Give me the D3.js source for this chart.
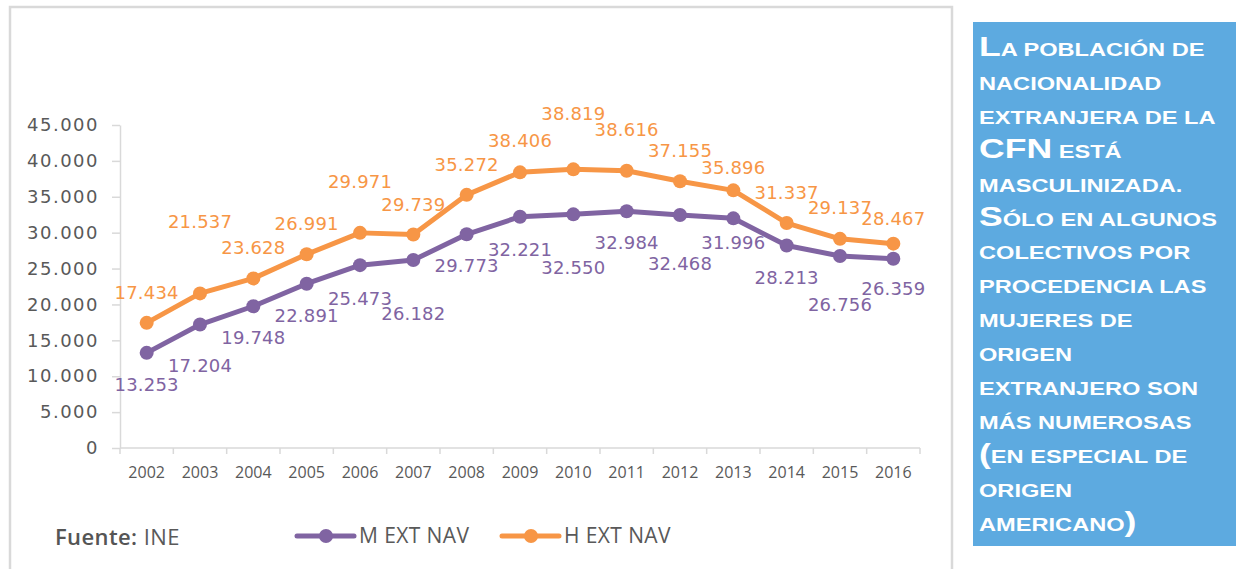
<!DOCTYPE html>
<html>
<head>
<meta charset="utf-8">
<script src="https://cdn.jsdelivr.net/npm/d3@7"></script>
<style>
  html, body { margin: 0; padding: 0; background: #fff; }
  svg { display: block; }
  .ylab text { font-family: "DejaVu Sans", sans-serif; font-size: 18px; fill: #595959; letter-spacing: 1.5px; }
  .dlab { font-family: "DejaVu Sans", sans-serif; font-size: 18px; letter-spacing: 0.2px; }
  .xlab { font-family: "Open Sans", sans-serif; font-size: 16px; fill: #595959; }
  .leg { font-family: "Open Sans", sans-serif; font-size: 21px; fill: #595959; letter-spacing: 0.4px; }
  .note { font-family: "Liberation Sans", Arial, sans-serif; font-weight: bold; fill: #fff; }
</style>
</head>
<body>
<svg id="svg" width="1236" height="569"></svg>
<script>
// data
var years = ["2002", "2003", "2004", "2005", "2006", "2007", "2008", "2009", "2010", "2011", "2012", "2013", "2014", "2015", "2016"];
var mujeres = [13253, 17204, 19748, 22891, 25473, 26182, 29773, 32221, 32550, 32984, 32468, 31996, 28213, 26756, 26359];
var hombres = [17434, 21537, 23628, 26991, 29971, 29739, 35272, 38406, 38819, 38616, 37155, 35896, 31337, 29137, 28467];
var yTicks = [0, 5000, 10000, 15000, 20000, 25000, 30000, 35000, 40000, 45000];
var seriesNames = ["M EXT NAV", "H EXT NAV"];
var sourceText = ["Fuente:", " INE"];
var noteLines = ["La población de", "nacionalidad", "extranjera de la", "CFN está", "masculinizada.",
  "Sólo en algunos", "colectivos por", "procedencia las", "mujeres de", "origen",
  "extranjero son", "más numerosas", "(en especial de", "origen", "americano)"];

// label nudges (vertical distance from the point, px) as placed in the original
var hLabelShift = [-30, -72, -31, -31, -51, -30, -30, -32, -56, -41, -31, -23, -31, -31, -25];
var mLabelShift = [32, 41, 31, 32, 33, 53, 31, 33, 53, 31, 49, 24, 32, 49, 30];

var purple = "#8064A2", orange = "#F79646", axisGrey = "#D9D9D9";

var svg = d3.select("#svg");

// chart frame
svg.append("rect")
  .attr("x", 10).attr("y", 7).attr("width", 942).attr("height", 620)
  .attr("fill", "#fff").attr("stroke", axisGrey).attr("stroke-width", 2.5);

var x = d3.scaleBand().domain(years).range([120, 920]);
var y = d3.scaleLinear().domain([0, 45000]).range([448, 125]);
var cx = function (d, i) { return x(years[i]) + x.bandwidth() / 2; };

var es = d3.formatLocale({ decimal: ",", thousands: ".", grouping: [3], currency: ["", " €"] });
var fmt = es.format(",");

// y axis
var yAxis = svg.append("g")
  .attr("class", "ylab")
  .attr("transform", "translate(120,0)")
  .call(d3.axisLeft(y).tickValues(yTicks).tickSize(8).tickSizeOuter(0).tickPadding(13).tickFormat(fmt));
yAxis.select(".domain").attr("stroke", axisGrey).attr("stroke-width", 1.5);
yAxis.selectAll(".tick line").attr("stroke", axisGrey).attr("stroke-width", 1.5);

// x axis (category axis, ticks between categories)
svg.append("line")
  .attr("x1", x.range()[0]).attr("x2", x.range()[1])
  .attr("y1", y(0)).attr("y2", y(0))
  .attr("stroke", axisGrey).attr("stroke-width", 1.5);
var bounds = years.map(function (d) { return x(d); }).concat([x.range()[1]]);
svg.append("g").selectAll("line").data(bounds).enter().append("line")
  .attr("x1", function (d) { return d; }).attr("x2", function (d) { return d; })
  .attr("y1", y(0)).attr("y2", y(0) + 6)
  .attr("stroke", axisGrey).attr("stroke-width", 1.5);
svg.append("g").selectAll("text").data(years).enter().append("text")
  .attr("class", "xlab")
  .attr("x", function (d) { return x(d) + x.bandwidth() / 2; })
  .attr("y", 478)
  .attr("text-anchor", "middle")
  .text(function (d) { return d; });

// lines + markers + labels
var line = d3.line().x(cx).y(function (d) { return y(d); });

function drawSeries(values, color, shifts) {
  svg.append("path")
    .attr("d", line(values))
    .attr("fill", "none").attr("stroke", color)
    .attr("stroke-width", 5).attr("stroke-linejoin", "round");
  svg.append("g").selectAll("circle").data(values).enter().append("circle")
    .attr("cx", cx).attr("cy", function (d) { return y(d); })
    .attr("r", 7).attr("fill", color);
  svg.append("g").selectAll("text").data(values).enter().append("text")
    .attr("class", "dlab")
    .attr("x", cx)
    .attr("y", function (d, i) { return y(d) + shifts[i] + 6.5; })
    .attr("text-anchor", "middle")
    .attr("fill", color)
    .text(fmt);
}
drawSeries(mujeres, purple, mLabelShift);
drawSeries(hombres, orange, hLabelShift);

// source
var src = svg.append("text").attr("class", "leg").attr("x", 55).attr("y", 545).style("font-size", "22px");
src.append("tspan").attr("font-weight", 600).attr("fill", "#555").text(sourceText[0]);
src.append("tspan").text(sourceText[1]);

// legend
var legX = [297, 502];
[purple, orange].forEach(function (c, i) {
  var g = svg.append("g").attr("transform", "translate(" + legX[i] + ",536)");
  g.append("line").attr("x1", 0).attr("x2", 57).attr("y1", 0).attr("y2", 0)
    .attr("stroke", c).attr("stroke-width", 5).attr("stroke-linecap", "round");
  g.append("circle").attr("cx", 29).attr("cy", 0).attr("r", 7).attr("fill", c);
  g.append("text").attr("class", "leg").attr("x", 62).attr("y", 7).text(seriesNames[i]);
});

// note box
svg.append("rect").attr("x", 973).attr("y", 22).attr("width", 263).attr("height", 524).attr("fill", "#5DAAE0");
noteLines.forEach(function (ln, i) {
  var t = svg.append("text").attr("class", "note")
    .attr("transform", "translate(979," + (56 + i * 33.9) + ") scale(1.27,1)");
  // small caps: capitals and brackets big, the rest as smaller capitals
  var runs = [];
  ln.split("").forEach(function (ch) {
    var big = /[A-ZÁÉÍÓÚÑ()]/.test(ch);
    if (runs.length && runs[runs.length - 1].big === big) runs[runs.length - 1].s += ch;
    else runs.push({ big: big, s: ch });
  });
  runs.forEach(function (r) {
    t.append("tspan").style("font-size", r.big ? "28px" : "18.6px").text(r.s.toUpperCase());
  });
});
</script>
</body>
</html>
